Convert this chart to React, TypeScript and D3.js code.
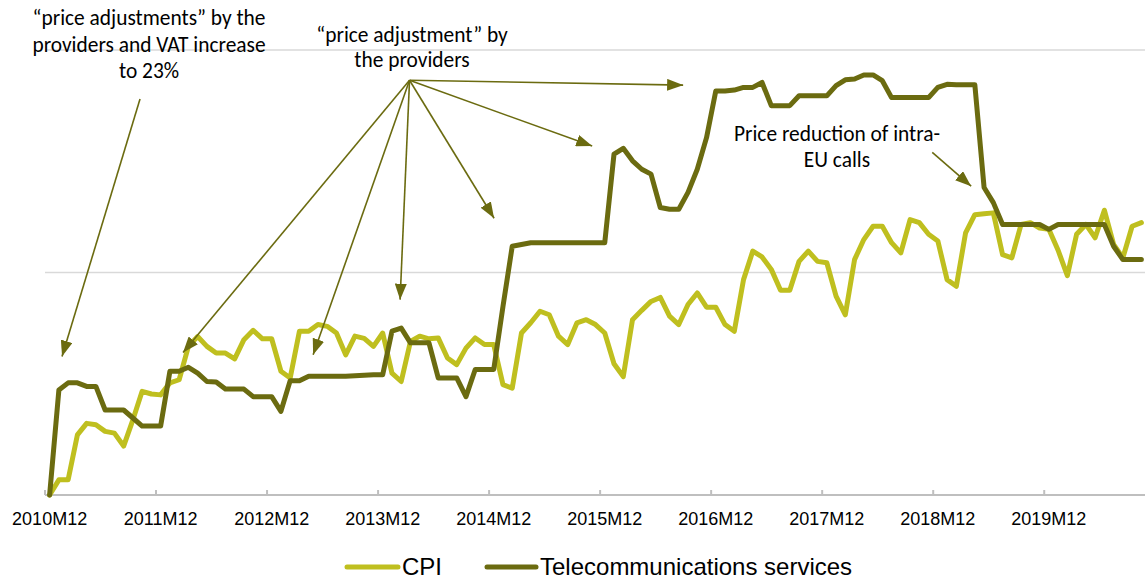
import React from "react";
import * as d3 from "d3";

const W = 1145;
const H = 580;

// Index change (cumulative, %) since 2010M12, monthly
const cpi: number[] = [
  0, 0.34, 0.34, 1.35, 1.61, 1.58, 1.43, 1.39, 1.1, 1.69,
  2.33, 2.27, 2.25, 2.52, 2.59, 3.34, 3.56, 3.34, 3.19, 3.19,
  3.06, 3.49, 3.7, 3.51, 3.51, 2.78, 2.63, 3.68, 3.68, 3.83,
  3.79, 3.64, 3.15, 3.57, 3.52, 3.34, 3.64, 2.74, 2.55, 3.45,
  3.57, 3.51, 3.53, 3.08, 2.93, 3.3, 3.53, 3.38, 3.38, 2.48,
  2.4, 3.64, 3.87, 4.13, 4.05, 3.57, 3.38, 3.87, 3.94, 3.83,
  3.64, 2.95, 2.66, 3.94, 4.15, 4.35, 4.44, 4.02, 3.83, 4.28,
  4.54, 4.22, 4.22, 3.83, 3.68, 4.84, 5.48, 5.35, 5.07, 4.6,
  4.6, 5.25, 5.48, 5.25, 5.22, 4.47, 4.05, 5.29, 5.74, 6.04,
  6.04, 5.67, 5.44, 6.19, 6.12, 5.86, 5.71, 4.84, 4.69, 5.89,
  6.3, 6.32, 6.34, 5.4, 5.33, 6.08, 6.12, 6.0, 5.97, 5.5,
  4.93, 5.86, 6.08, 5.78, 6.4, 5.63, 5.33, 6.04, 6.12,
];

const telecom: number[] = [
  0, 2.36, 2.52, 2.52, 2.44, 2.44, 1.91, 1.91, 1.91, 1.73,
  1.55, 1.55, 1.55, 2.78, 2.78, 2.87, 2.74, 2.55, 2.54, 2.38,
  2.38, 2.38, 2.21, 2.21, 2.21, 1.88, 2.57, 2.57, 2.67, 2.67,
  2.67, 2.67, 2.67, 2.68, 2.69, 2.7, 2.7, 3.68, 3.75, 3.42,
  3.42, 3.42, 2.63, 2.63, 2.63, 2.21, 2.82, 2.82, 2.82, 4.24,
  5.59, 5.63, 5.67, 5.67, 5.67, 5.67, 5.67, 5.67, 5.67, 5.67,
  5.67, 7.66, 7.79, 7.51, 7.32, 7.21, 6.46, 6.42, 6.42, 6.8,
  7.32, 8.03, 9.08, 9.08, 9.1, 9.16, 9.16, 9.27, 8.75, 8.75,
  8.75, 8.97, 8.97, 8.97, 8.97, 9.2, 9.33, 9.35, 9.44, 9.44,
  9.31, 8.93, 8.93, 8.93, 8.93, 8.93, 9.16, 9.23, 9.22, 9.22,
  9.22, 6.91, 6.57, 6.08, 6.08, 6.08, 6.08, 6.08, 5.97, 6.08,
  6.08, 6.08, 6.08, 6.08, 6.08, 5.59, 5.29, 5.29, 5.29,
];

const tickLabels: string[] = [
  "2010M12", "2011M12", "2012M12", "2013M12", "2014M12",
  "2015M12", "2016M12", "2017M12", "2018M12", "2019M12",
];

const gridValues: number[] = [0, 5, 10];

// annotation arrows in data coordinates: [monthIndex, value]
type Pt = [number, number];
const arrowsA1: { from: Pt; to: Pt }[] = [{ from: [9.77, 8.9], to: [1.34, 3.11] }];
const arrowsA2Origin: Pt = [38.9, 9.32];
const arrowsA2Targets: Pt[] = [
  [14.42, 3.2],
  [28.48, 3.15],
  [37.88, 4.39],
  [48.04, 6.22],
  [58.64, 7.84],
  [68.47, 9.21],
];
const arrowsA3: { from: Pt; to: Pt }[] = [{ from: [95.4, 7.7], to: [99.6, 6.94] }];

const CPI_COLOR = "#bfbf1f";
const TEL_COLOR = "#6b6b10";
const ARROW_COLOR = "#6b6b10";

export default function App() {
  const n = cpi.length;
  const x = d3.scaleLinear().domain([-0.5, n - 0.5]).range([45, 1146]);
  const y = d3.scaleLinear().domain([0, 10]).range([495, 50]);

  const line = d3
    .line<number>()
    .x((_, i) => x(i))
    .y((d) => y(d));

  const arrows: { from: Pt; to: Pt }[] = [
    ...arrowsA1,
    ...arrowsA2Targets.map((t) => ({ from: arrowsA2Origin, to: t })),
    ...arrowsA3,
  ];

  const annFont = "Carlito, Lato, 'Open Sans', sans-serif";
  const axFont = "Arial, 'Liberation Sans', sans-serif";

  return (
    <svg
      width={W}
      height={H}
      style={{ position: "absolute", left: 0, top: 0, display: "block", background: "#fff" }}
    >
      <defs>
        <marker
          id="ah"
          viewBox="0 0 16 12"
          refX={16}
          refY={6}
          markerWidth={16}
          markerHeight={12}
          markerUnits="userSpaceOnUse"
          orient="auto"
        >
          <path d="M0,0 L16,6 L0,12 Z" fill={ARROW_COLOR} />
        </marker>
      </defs>

      {/* gridlines */}
      {gridValues
        .filter((v) => v > 0)
        .map((v) => (
          <line key={v} x1={45} x2={1146} y1={y(v)} y2={y(v)} stroke="#d9d9d9" strokeWidth={1.5} />
        ))}

      {/* x axis */}
      <line x1={45} x2={1146} y1={y(0)} y2={y(0)} stroke="#bfbfbf" strokeWidth={2} />
      {tickLabels.map((lab, k) => {
        const tx = x(k * 12 - 0.5);
        return (
          <line key={"t" + k} x1={tx} x2={tx} y1={y(0) - 5} y2={y(0)} stroke="#bfbfbf" strokeWidth={2} />
        );
      })}
      {tickLabels.map((lab, k) => (
        <text
          key={"l" + k}
          x={x(k * 12)}
          y={525}
          textAnchor="middle"
          fontFamily={axFont}
          fontSize={18}
          fill="#000"
        >
          {lab}
        </text>
      ))}

      {/* series */}
      <path
        d={line(cpi) || ""}
        fill="none"
        stroke={CPI_COLOR}
        strokeWidth={5}
        strokeLinejoin="round"
        strokeLinecap="round"
      />
      <path
        d={line(telecom) || ""}
        fill="none"
        stroke={TEL_COLOR}
        strokeWidth={5}
        strokeLinejoin="round"
        strokeLinecap="round"
      />

      {/* annotation arrows */}
      {arrows.map((a, k) => (
        <line
          key={"a" + k}
          x1={x(a.from[0])}
          y1={y(a.from[1])}
          x2={x(a.to[0])}
          y2={y(a.to[1])}
          stroke={ARROW_COLOR}
          strokeWidth={1.6}
          markerEnd="url(#ah)"
        />
      ))}

      {/* annotation texts */}
      <g fontFamily={annFont} fontSize={21.4} fill="#000" textAnchor="middle">
        <text x={149} y={25}>“price adjustments” by the</text>
        <text x={149} y={52}>providers and VAT increase</text>
        <text x={149} y={78}>to 23%</text>
        <text x={412} y={42}>“price adjustment” by</text>
        <text x={412} y={67}>the providers</text>
        <text x={837} y={141}>Price reduction of intra-</text>
        <text x={837} y={167}>EU calls</text>
      </g>

      {/* legend */}
      <line x1={347} x2={398} y1={567} y2={567} stroke={CPI_COLOR} strokeWidth={5} strokeLinecap="round" />
      <text x={402} y={575} fontFamily={axFont} fontSize={24} fill="#000">
        CPI
      </text>
      <line x1={487} x2={536} y1={567} y2={567} stroke={TEL_COLOR} strokeWidth={5} strokeLinecap="round" />
      <text x={540} y={575} fontFamily={axFont} fontSize={24} fill="#000">
        Telecommunications services
      </text>
    </svg>
  );
}
